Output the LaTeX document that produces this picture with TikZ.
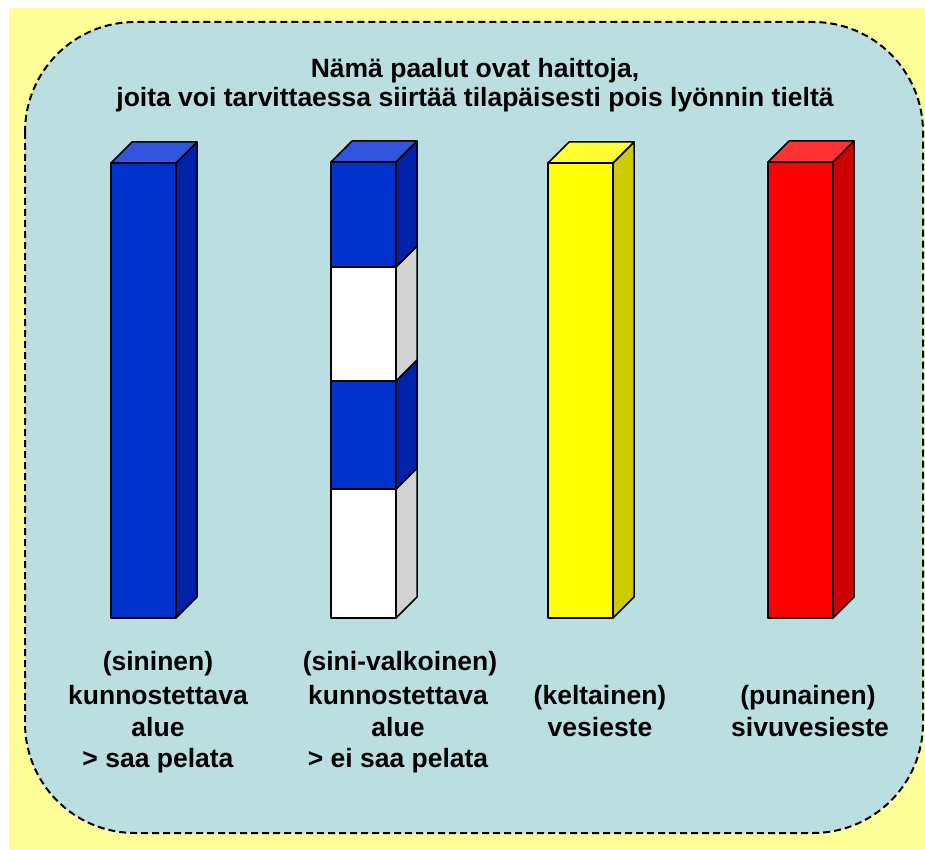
\documentclass[tikz,border=0pt]{standalone}
\usepackage{fontspec}
\setmainfont{Liberation Sans}
\definecolor{bgyellow}{RGB}{255,255,153}
\definecolor{panel}{RGB}{187,223,225}
\definecolor{bluefront}{RGB}{0,51,204}
\definecolor{bluetop}{RGB}{51,85,221}
\definecolor{blueside}{RGB}{0,34,170}
\definecolor{yelfront}{RGB}{255,255,0}
\definecolor{yeltop}{RGB}{255,255,51}
\definecolor{yelside}{RGB}{204,204,0}
\definecolor{redfront}{RGB}{255,0,0}
\definecolor{redtop}{RGB}{255,51,51}
\definecolor{redside}{RGB}{204,0,0}
\definecolor{whiteside}{RGB}{210,210,210}
\newcommand\postseg[5]{% x, y1, y2, front, side
  \filldraw[postline,fill=#4] (#1,#2) rectangle (#1+65,#3);
  \filldraw[postline,fill=#5] (#1+65,#2) -- (#1+86,#2-21) -- (#1+86,#3-21) -- (#1+65,#3) -- cycle;}
\newcommand\posttop[3]{% x, y, top colour
  \filldraw[postline,fill=#3] (#1,#2) -- (#1+21,#2-21) -- (#1+86,#2-21) -- (#1+65,#2) -- cycle;}
\begin{document}
\begin{tikzpicture}[x=1pt,y=-1pt,
  postline/.style={draw=black,line width=1.5pt,line join=round},
  txt/.style={font=\bfseries\fontsize{26.5}{30}\selectfont,inner sep=0pt,anchor=base}]
\useasboundingbox (0,0) rectangle (925,850);
\fill[white] (0,0) rectangle (925,850);
\fill[bgyellow] (9,8) rectangle (925,850);
\draw[fill=panel,line width=2pt,dash pattern=on 7pt off 4pt,rounded corners=110pt]
  (25,22) rectangle (923,833);
% titles
\node[txt] (t1) at (475,78) {Nämä paalut ovat haittoja,};
\node[txt] (t2) at (475,107) {joita voi tarvittaessa siirtää tilapäisesti pois lyönnin tieltä};
% post 1 blue
\postseg{111}{163}{618}{bluefront}{blueside}
\posttop{111}{163}{bluetop}
% post 2 blue-white
\postseg{331}{489}{618}{white}{whiteside}
\postseg{331}{381}{489}{bluefront}{blueside}
\postseg{331}{267}{381}{white}{whiteside}
\postseg{331}{162}{267}{bluefront}{blueside}
\posttop{331}{162}{bluetop}
% post 3 yellow
\postseg{548}{163}{618}{yelfront}{yelside}
\posttop{548}{163}{yeltop}
% post 4 red
\postseg{768}{162}{618}{redfront}{redside}
\posttop{768}{162}{redtop}
% labels
\node[txt] (a1) at (158,670) {(sininen)};
\node[txt] (a2) at (158,704) {kunnostettava};
\node[txt] (a3) at (158,736) {alue};
\node[txt] (a4) at (158,767) {> saa pelata};
\node[txt] (b1) at (400,670) {(sini-valkoinen)};
\node[txt] (b2) at (398,704) {kunnostettava};
\node[txt] (b3) at (398,736) {alue};
\node[txt] (b4) at (398,767) {> ei saa pelata};
\node[txt] (c1) at (600,704) {(keltainen)};
\node[txt] (c2) at (600,736) {vesieste};
\node[txt] (d1) at (808,704) {(punainen)};
\node[txt] (d2) at (810,736) {sivuvesieste};
\end{tikzpicture}
\end{document}
